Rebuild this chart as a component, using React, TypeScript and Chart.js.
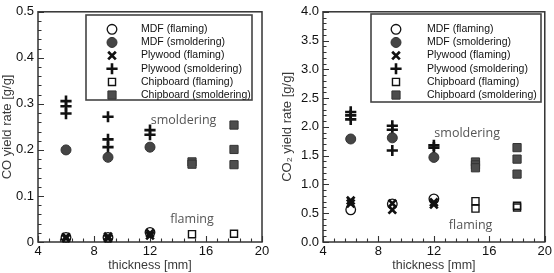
import React, { useEffect, useRef } from 'react';
import { Chart, registerables } from 'chart.js';
import { drawPoint } from 'chart.js/helpers';

Chart.register(...registerables);

// Series names, in legend order
const seriesLabels = [
  'MDF (flaming)',
  'MDF (smoldering)',
  'Plywood (flaming)',
  'Plywood (smoldering)',
  'Chipboard (flaming)',
  'Chipboard (smoldering)',
];

// CO yield rate [g/g] against specimen thickness [mm]
const coMdfFlamingT = [6, 9, 12];
const coMdfFlaming = [0.01, 0.01, 0.021];
const coMdfSmolderT = [6, 9, 12];
const coMdfSmolder = [0.2, 0.184, 0.206];
const coPlyFlamingT = [6, 6, 9, 9, 12, 12];
const coPlyFlaming = [0.008, 0.011, 0.008, 0.012, 0.014, 0.019];
const coPlySmolderT = [6, 6, 6, 9, 9, 9, 12, 12];
const coPlySmolder = [0.306, 0.295, 0.279, 0.272, 0.223, 0.206, 0.243, 0.233];
const coChipFlamingT = [15, 18];
const coChipFlaming = [0.017, 0.018];
const coChipSmolderT = [15, 15, 18, 18, 18];
const coChipSmolder = [0.174, 0.169, 0.254, 0.201, 0.168];

// CO2 yield rate [g/g] against specimen thickness [mm]
const co2MdfFlamingT = [6, 9, 12];
const co2MdfFlaming = [0.56, 0.66, 0.75];
const co2MdfSmolderT = [6, 9, 12];
const co2MdfSmolder = [1.79, 1.81, 1.47];
const co2PlyFlamingT = [6, 6, 9, 9, 12, 12];
const co2PlyFlaming = [0.72, 0.67, 0.67, 0.56, 0.65, 0.69];
const co2PlySmolderT = [6, 6, 6, 9, 9, 9, 12, 12];
const co2PlySmolder = [2.26, 2.2, 2.13, 2.02, 1.95, 1.59, 1.68, 1.64];
const co2ChipFlamingT = [15, 15, 18, 18];
const co2ChipFlaming = [0.71, 0.58, 0.6, 0.63];
const co2ChipSmolderT = [15, 15, 15, 18, 18, 18];
const co2ChipSmolder = [1.39, 1.34, 1.29, 1.64, 1.44, 1.18];

// Axis ranges and tick steps
const thicknessMin = 4;
const thicknessMax = 20;
const thicknessStep = 4;
const thicknessMinor = 0.8;
const coMax = 0.5;
const coStep = 0.1;
const coMinor = 0.02;
const co2Max = 4;
const co2Step = 0.5;
const co2Minor = 0.1;

const SANS = '"Liberation Sans", Arial, sans-serif';
const NOTE_FONT = '"Open Sans", sans-serif';

type MarkerStyle = {
  pointStyle: string;
  radius: number;
  backgroundColor: string;
  borderColor: string;
  borderWidth: number;
};

const markerStyles: MarkerStyle[] = [
  { pointStyle: 'circle', radius: 4.8, backgroundColor: 'rgba(0,0,0,0)', borderColor: '#111', borderWidth: 1.3 },
  { pointStyle: 'circle', radius: 5, backgroundColor: '#454545', borderColor: '#333', borderWidth: 1 },
  { pointStyle: 'crossRot', radius: 5.4, backgroundColor: 'rgba(0,0,0,0)', borderColor: '#111', borderWidth: 2.7 },
  { pointStyle: 'cross', radius: 5.6, backgroundColor: 'rgba(0,0,0,0)', borderColor: '#111', borderWidth: 2.6 },
  { pointStyle: 'rect', radius: 5, backgroundColor: 'rgba(0,0,0,0)', borderColor: '#111', borderWidth: 1.4 },
  { pointStyle: 'rect', radius: 5.8, backgroundColor: '#4d4d4d', borderColor: '#333', borderWidth: 1 },
];

const toPoints = (xs: number[], ys: number[]) => xs.map((x, i) => ({ x, y: ys[i] }));

// Plot frame with inward major/minor ticks on the left and bottom axes
const frameTicks = {
  id: 'frameTicks',
  beforeDatasetsDraw(chart: any, _args: any, opts: any) {
    const { ctx, chartArea: a, scales } = chart;
    ctx.save();
    ctx.strokeStyle = '#333';
    ctx.lineWidth = 1.5;
    ctx.strokeRect(a.left, a.top, a.right - a.left, a.bottom - a.top);
    ctx.lineWidth = 1.1;
    ctx.beginPath();
    const xs = scales.x;
    const nx = Math.round((xs.max - xs.min) / opts.xMinor);
    for (let i = 0; i <= nx; i++) {
      const v = xs.min + i * opts.xMinor;
      const r = v / opts.xMajor;
      const major = Math.abs(r - Math.round(r)) < 1e-6;
      const px = Math.round(xs.getPixelForValue(v)) + 0.5;
      ctx.moveTo(px, a.bottom);
      ctx.lineTo(px, a.bottom - (major ? 6 : 3.5));
    }
    const ys = scales.y;
    const ny = Math.round((ys.max - ys.min) / opts.yMinor);
    for (let i = 0; i <= ny; i++) {
      const v = ys.min + i * opts.yMinor;
      const r = v / opts.yMajor;
      const major = Math.abs(r - Math.round(r)) < 1e-6;
      const py = Math.round(ys.getPixelForValue(v)) + 0.5;
      ctx.moveTo(a.left, py);
      ctx.lineTo(a.left + (major ? 6 : 3.5), py);
    }
    ctx.stroke();
    ctx.restore();
  },
};

// Free text labels placed in data coordinates
const notesPlugin = {
  id: 'notes',
  afterDatasetsDraw(chart: any, _args: any, opts: any) {
    const { ctx, scales } = chart;
    ctx.save();
    ctx.fillStyle = '#555';
    ctx.font = `12.5px ${NOTE_FONT}`;
    ctx.textAlign = 'center';
    ctx.textBaseline = 'middle';
    for (const n of opts.items) {
      ctx.fillText(n.text, scales.x.getPixelForValue(n.x), scales.y.getPixelForValue(n.y));
    }
    ctx.restore();
  },
};

// Boxed legend inside the plot area
const boxLegend = {
  id: 'boxLegend',
  afterDraw(chart: any, _args: any, opts: any) {
    const { ctx } = chart;
    const b = opts.box;
    ctx.save();
    ctx.fillStyle = '#fff';
    ctx.fillRect(b.left, b.top, b.right - b.left, b.bottom - b.top);
    ctx.strokeStyle = '#444';
    ctx.lineWidth = 1.6;
    ctx.strokeRect(b.left, b.top, b.right - b.left, b.bottom - b.top);
    chart.data.datasets.forEach((ds: any, i: number) => {
      const y = b.rowTop + i * b.rowStep;
      const st = markerStyles[i];
      ctx.save();
      ctx.fillStyle = st.backgroundColor;
      ctx.strokeStyle = st.borderColor;
      ctx.lineWidth = st.borderWidth;
      drawPoint(ctx, { pointStyle: st.pointStyle as any, rotation: 0, radius: st.radius, borderWidth: st.borderWidth }, b.symbolX, y);
      ctx.restore();
      ctx.fillStyle = '#111';
      ctx.font = `10.5px ${SANS}`;
      ctx.textAlign = 'left';
      ctx.textBaseline = 'middle';
      ctx.fillText(ds.label, b.textX, y);
    });
    ctx.restore();
  },
};

type PanelProps = {
  series: { x: number[]; y: number[] }[];
  yMax: number;
  yStep: number;
  yMinor: number;
  yLabel: (v: number) => string;
  yTitle: string;
  yAxisWidth: number;
  yTitlePad: number;
  rightPad: number;
  notes: { text: string; x: number; y: number }[];
  box: { left: number; top: number; right: number; bottom: number; symbolX: number; textX: number; rowTop: number; rowStep: number };
};

function Panel(p: PanelProps) {
  const ref = useRef<HTMLCanvasElement>(null);
  useEffect(() => {
    if (!ref.current) return;
    const chart = new Chart(ref.current, {
      type: 'scatter',
      data: {
        datasets: p.series.map((s, i) => ({
          label: seriesLabels[i],
          data: toPoints(s.x, s.y),
          pointStyle: markerStyles[i].pointStyle as any,
          pointRadius: markerStyles[i].radius,
          pointBackgroundColor: markerStyles[i].backgroundColor,
          pointBorderColor: markerStyles[i].borderColor,
          pointBorderWidth: markerStyles[i].borderWidth,
          clip: false as any,
        })),
      },
      options: {
        responsive: false,
        animation: false,
        events: [],
        layout: { padding: { top: 10, right: p.rightPad, left: 0, bottom: 0 } },
        plugins: {
          legend: { display: false },
          tooltip: { enabled: false },
          frameTicks: { xMajor: thicknessStep, xMinor: thicknessMinor, yMajor: p.yStep, yMinor: p.yMinor },
          notes: { items: p.notes },
          boxLegend: { box: p.box },
        } as any,
        scales: {
          x: {
            type: 'linear',
            min: thicknessMin,
            max: thicknessMax,
            ticks: {
              stepSize: thicknessStep,
              padding: 2,
              color: '#111',
              font: { family: SANS, size: 13 },
              maxRotation: 0,
              autoSkip: false,
            },
            grid: { display: false, drawTicks: false },
            border: { display: false },
            title: {
              display: true,
              text: 'thickness [mm]',
              color: '#3a3a3a',
              font: { family: SANS, size: 12.5 },
              padding: { top: 0, bottom: 0 },
            },
            afterFit: (s: any) => {
              s.height = 31;
            },
          },
          y: {
            type: 'linear',
            min: 0,
            max: p.yMax,
            ticks: {
              stepSize: p.yStep,
              padding: 4,
              color: '#111',
              font: { family: SANS, size: 13 },
              callback: (v: any) => p.yLabel(Number(v)),
            },
            grid: { display: false, drawTicks: false },
            border: { display: false },
            title: {
              display: true,
              text: p.yTitle,
              color: '#3a3a3a',
              font: { family: SANS, size: 13 },
              padding: { top: p.yTitlePad, bottom: 0 },
            },
            afterFit: (s: any) => {
              s.width = p.yAxisWidth;
            },
          },
        },
      } as any,
      plugins: [frameTicks, notesPlugin, boxLegend],
    });
    return () => chart.destroy();
  }, []);
  return <canvas ref={ref} width={277} height={273} style={{ display: 'block' }} />;
}

export default function App() {
  return (
    <div
      style={{
        position: 'fixed',
        left: 0,
        top: 0,
        width: 554,
        height: 273,
        display: 'flex',
        background: '#fff',
      }}
    >
      <Panel
        series={[
          { x: coMdfFlamingT, y: coMdfFlaming },
          { x: coMdfSmolderT, y: coMdfSmolder },
          { x: coPlyFlamingT, y: coPlyFlaming },
          { x: coPlySmolderT, y: coPlySmolder },
          { x: coChipFlamingT, y: coChipFlaming },
          { x: coChipSmolderT, y: coChipSmolder },
        ]}
        yMax={coMax}
        yStep={coStep}
        yMinor={coMinor}
        yLabel={(v) => (Math.abs(v) < 1e-9 ? '0' : v.toFixed(1))}
        yTitle="CO yield rate [g/g]"
        yAxisWidth={38}
        yTitlePad={0}
        rightPad={15}
        notes={[
          { text: 'smoldering', x: 14.4, y: 0.265 },
          { text: 'flaming', x: 15.0, y: 0.05 },
        ]}
        box={{ left: 86, top: 15, right: 252, bottom: 100, symbolX: 112, textX: 141, rowTop: 29.3, rowStep: 13.15 }}
      />
      <Panel
        series={[
          { x: co2MdfFlamingT, y: co2MdfFlaming },
          { x: co2MdfSmolderT, y: co2MdfSmolder },
          { x: co2PlyFlamingT, y: co2PlyFlaming },
          { x: co2PlySmolderT, y: co2PlySmolder },
          { x: co2ChipFlamingT, y: co2ChipFlaming },
          { x: co2ChipSmolderT, y: co2ChipSmolder },
        ]}
        yMax={co2Max}
        yStep={co2Step}
        yMinor={co2Minor}
        yLabel={(v) => v.toFixed(1)}
        yTitle="CO₂ yield rate [g/g]"
        yAxisWidth={46}
        yTitlePad={3}
        rightPad={7}
        notes={[
          { text: 'smoldering', x: 14.4, y: 1.88 },
          { text: 'flaming', x: 14.65, y: 0.29 },
        ]}
        box={{ left: 94, top: 14, right: 264, bottom: 102, symbolX: 119, textX: 150, rowTop: 29.3, rowStep: 13.15 }}
      />
    </div>
  );
}
